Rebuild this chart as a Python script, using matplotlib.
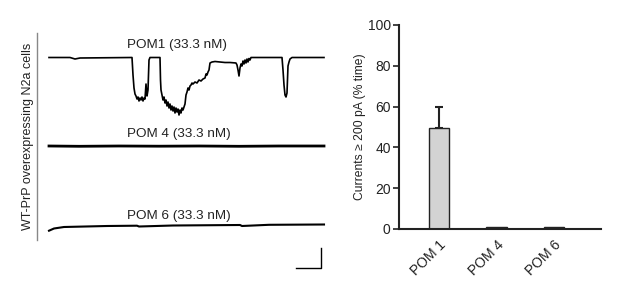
import numpy as np
import matplotlib
matplotlib.use("Agg")
import matplotlib.pyplot as plt
from matplotlib.lines import Line2D

plt.rcParams['font.family'] = ['Liberation Sans', 'DejaVu Sans']

# ---- patch-clamp traces (time in s, current in pA) ----
pom1_t = [0, 42, 52, 62, 166, 168, 170, 172, 174, 176, 178, 180, 182, 184, 186, 188, 190, 192,
          194, 196, 198, 200, 202, 222, 223, 224, 226, 228, 230, 232, 234, 236, 238, 240, 242,
          244, 246, 248, 250, 252, 254, 256, 258, 260, 262, 264, 266, 268, 270, 272, 274, 276,
          278, 280, 282, 284, 286, 288, 292, 296, 300, 304, 308, 312, 314, 316, 318, 320, 322,
          326, 332, 342, 352, 362, 374, 376, 378, 380, 382, 384, 386, 388, 390, 392, 394, 396,
          398, 400, 402, 404, 466, 468, 470, 472, 474, 476, 478, 480, 482, 486, 550]
pom1_i = [0, 0, -15, -5, 0, -175, -305, -365, -385, -415, -395, -435, -405, -425, -395, -435, -405, -415,
          -265, -385, -325, -25, 0, 0, -225, -325, -375, -425, -395, -455, -425, -485, -445, -505, -465,
          -525, -485, -535, -495, -555, -505, -545, -515, -575, -525, -555, -505, -525, -495, -465, -375, -345,
          -305, -325, -285, -275, -255, -265, -245, -255, -225, -235, -215, -205, -165, -175, -145, -125, -55,
          -45, -40, -45, -50, -50, -55, -75, -125, -185, -105, -65, -85, -35, -65, -25, -55, -15,
          -45, -10, -25, 0, 0, -125, -275, -375, -395, -355, -85, -45, -15, 0, 0]

pom4_t = [0, 60, 140, 220, 300, 380, 460, 550]
pom4_i = [0, -3, 0, -2, 0, -3, 0, 0]

pom6_t = [0, 10, 30, 116, 176, 180, 248, 382, 386, 440, 550]
pom6_i = [-62, -40, -25, -15, -12, -20, -10, -5, -15, -3, 0]

trace_labels = ['POM1 (33.3 nM)', 'POM 4 (33.3 nM)', 'POM 6 (33.3 nM)']
scale_t = 50    # s
scale_i = 200   # pA

# ---- bar chart ----
groups = ['POM 1', 'POM 4', 'POM 6']
pct_time = [49.4, 0.8, 0.8]
pct_sem = [10.3, 0, 0]

fig = plt.figure(figsize=(6.17, 2.92), dpi=100)
txt = '#222222'

# left panel: traces
W, H = 617, 292
axt = fig.add_axes([49 / W, 12 / H, 275 / W, 250 / H])
axt.set_xlim(0, 550)
axt.set_ylim(-2225, 275)
axt.axis('off')

offsets = [0, -885, -1670]
axt.plot(pom1_t, np.array(pom1_i) + offsets[0], color='black', lw=1.2, clip_on=False)
axt.plot(pom4_t, np.array(pom4_i) + offsets[1], color='black', lw=2.0, clip_on=False)
axt.plot(pom6_t, np.array(pom6_i) + offsets[2], color='black', lw=1.5, clip_on=False)

label_pos = [(257, 125), (260, -765), (260, -1585)]
for lab, (tx, ty) in zip(trace_labels, label_pos):
    axt.text(tx, ty, lab, ha='center', va='center', fontsize=9.7, color=txt)

# scale bar
x1, y0 = 544, -2105
axt.plot([x1 - scale_t, x1, x1], [y0, y0, y0 + scale_i], color='black', lw=1.0, clip_on=False)

fig.text(28 / W, 1 - 136 / H, 'WT-PrP overexpressing N2a cells', rotation=90,
         ha='center', va='center', fontsize=9, color=txt)
fig.add_artist(Line2D([37 / W, 37 / W], [1 - 33 / H, 1 - 240 / H],
                      color='#888888', lw=1.0, transform=fig.transFigure))

# right panel: bars
axb = fig.add_axes([399 / W, 63 / H, 202 / W, 204 / H])
x = np.arange(len(groups))
axb.bar(x, pct_time, width=0.35, color='#d3d3d3', edgecolor=txt, linewidth=1.0, zorder=2)
axb.errorbar(x[:1], pct_time[:1], yerr=[[0], pct_sem[:1]], fmt='none', ecolor=txt,
             elinewidth=1.5, capsize=3, capthick=1.5, zorder=1)
axb.set_xlim(-0.696, 2.817)
axb.set_ylim(0, 100)
axb.set_yticks([0, 20, 40, 60, 80, 100])
axb.set_xticks(x)
axb.set_xticklabels(groups, rotation=45, ha='right', rotation_mode='anchor')
axb.spines['top'].set_visible(False)
axb.spines['right'].set_visible(False)
for s in ['left', 'bottom']:
    axb.spines[s].set_linewidth(1.5)
    axb.spines[s].set_color(txt)
axb.tick_params(axis='y', length=4, width=1.2, labelsize=10, colors=txt, pad=2)
axb.tick_params(axis='x', length=0, labelsize=10, colors=txt, pad=6)
axb.set_ylabel('Currents ≥ 200 pA (% time)', fontsize=8.7, color=txt, labelpad=1)

fig.savefig('out.png', dpi=100)
